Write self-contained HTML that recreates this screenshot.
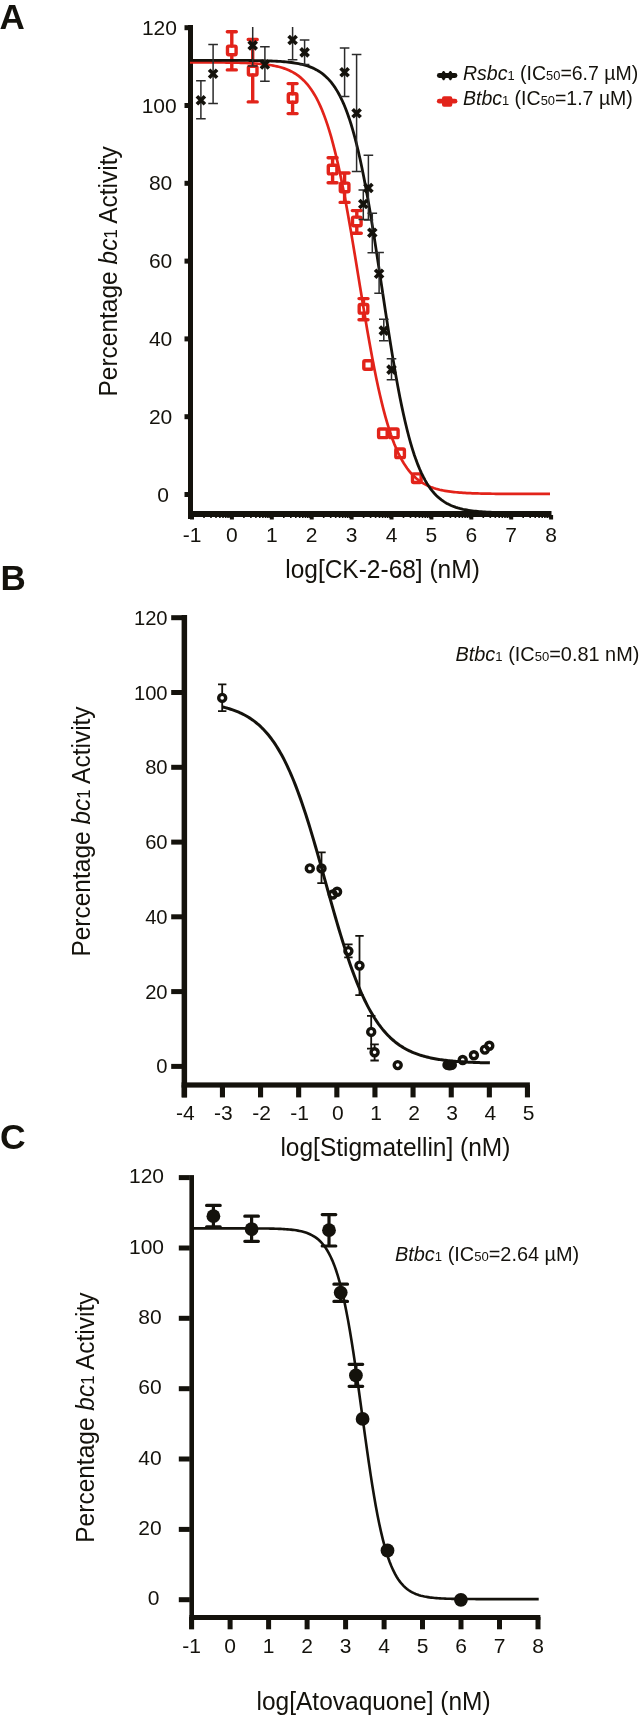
<!DOCTYPE html>
<html><head><meta charset="utf-8"><style>
html,body{margin:0;padding:0;background:#fff;}
svg{display:block;will-change:transform;}
text{font-family:"Liberation Sans",sans-serif;fill:#14120c;}
</style></head><body>
<svg width="641" height="1716" viewBox="0 0 641 1716">
<rect width="641" height="1716" fill="#fff"/>
<rect x="188" y="25" width="5" height="494" fill="#14120c"/>
<rect x="188" y="511" width="363.5" height="6" fill="#14120c"/>
<rect x="184.5" y="492.0" width="5" height="5" fill="#14120c"/>
<rect x="184.5" y="414.2" width="5" height="5" fill="#14120c"/>
<rect x="184.5" y="336.4" width="5" height="5" fill="#14120c"/>
<rect x="184.5" y="258.6" width="5" height="5" fill="#14120c"/>
<rect x="184.5" y="180.8" width="5" height="5" fill="#14120c"/>
<rect x="184.5" y="103.0" width="5" height="5" fill="#14120c"/>
<rect x="184.5" y="25.2" width="5" height="5" fill="#14120c"/>
<rect x="190.0" y="515" width="4" height="4.5" fill="#14120c"/>
<rect x="203.2" y="515" width="1.6" height="3" fill="#14120c"/>
<rect x="210.2" y="515" width="1.6" height="3" fill="#14120c"/>
<rect x="215.2" y="515" width="1.6" height="3" fill="#14120c"/>
<rect x="219.1" y="515" width="1.6" height="3" fill="#14120c"/>
<rect x="222.2" y="515" width="1.6" height="3" fill="#14120c"/>
<rect x="224.9" y="515" width="1.6" height="3" fill="#14120c"/>
<rect x="227.2" y="515" width="1.6" height="3" fill="#14120c"/>
<rect x="229.3" y="515" width="1.6" height="3" fill="#14120c"/>
<rect x="229.9" y="515" width="4" height="4.5" fill="#14120c"/>
<rect x="243.1" y="515" width="1.6" height="3" fill="#14120c"/>
<rect x="250.1" y="515" width="1.6" height="3" fill="#14120c"/>
<rect x="255.1" y="515" width="1.6" height="3" fill="#14120c"/>
<rect x="259.0" y="515" width="1.6" height="3" fill="#14120c"/>
<rect x="262.1" y="515" width="1.6" height="3" fill="#14120c"/>
<rect x="264.8" y="515" width="1.6" height="3" fill="#14120c"/>
<rect x="267.1" y="515" width="1.6" height="3" fill="#14120c"/>
<rect x="269.2" y="515" width="1.6" height="3" fill="#14120c"/>
<rect x="269.8" y="515" width="4" height="4.5" fill="#14120c"/>
<rect x="283.0" y="515" width="1.6" height="3" fill="#14120c"/>
<rect x="290.0" y="515" width="1.6" height="3" fill="#14120c"/>
<rect x="295.0" y="515" width="1.6" height="3" fill="#14120c"/>
<rect x="298.9" y="515" width="1.6" height="3" fill="#14120c"/>
<rect x="302.0" y="515" width="1.6" height="3" fill="#14120c"/>
<rect x="304.7" y="515" width="1.6" height="3" fill="#14120c"/>
<rect x="307.0" y="515" width="1.6" height="3" fill="#14120c"/>
<rect x="309.1" y="515" width="1.6" height="3" fill="#14120c"/>
<rect x="309.7" y="515" width="4" height="4.5" fill="#14120c"/>
<rect x="322.9" y="515" width="1.6" height="3" fill="#14120c"/>
<rect x="329.9" y="515" width="1.6" height="3" fill="#14120c"/>
<rect x="334.9" y="515" width="1.6" height="3" fill="#14120c"/>
<rect x="338.8" y="515" width="1.6" height="3" fill="#14120c"/>
<rect x="341.9" y="515" width="1.6" height="3" fill="#14120c"/>
<rect x="344.6" y="515" width="1.6" height="3" fill="#14120c"/>
<rect x="346.9" y="515" width="1.6" height="3" fill="#14120c"/>
<rect x="349.0" y="515" width="1.6" height="3" fill="#14120c"/>
<rect x="349.6" y="515" width="4" height="4.5" fill="#14120c"/>
<rect x="362.8" y="515" width="1.6" height="3" fill="#14120c"/>
<rect x="369.8" y="515" width="1.6" height="3" fill="#14120c"/>
<rect x="374.8" y="515" width="1.6" height="3" fill="#14120c"/>
<rect x="378.7" y="515" width="1.6" height="3" fill="#14120c"/>
<rect x="381.8" y="515" width="1.6" height="3" fill="#14120c"/>
<rect x="384.5" y="515" width="1.6" height="3" fill="#14120c"/>
<rect x="386.8" y="515" width="1.6" height="3" fill="#14120c"/>
<rect x="388.9" y="515" width="1.6" height="3" fill="#14120c"/>
<rect x="389.5" y="515" width="4" height="4.5" fill="#14120c"/>
<rect x="402.7" y="515" width="1.6" height="3" fill="#14120c"/>
<rect x="409.7" y="515" width="1.6" height="3" fill="#14120c"/>
<rect x="414.7" y="515" width="1.6" height="3" fill="#14120c"/>
<rect x="418.6" y="515" width="1.6" height="3" fill="#14120c"/>
<rect x="421.7" y="515" width="1.6" height="3" fill="#14120c"/>
<rect x="424.4" y="515" width="1.6" height="3" fill="#14120c"/>
<rect x="426.7" y="515" width="1.6" height="3" fill="#14120c"/>
<rect x="428.8" y="515" width="1.6" height="3" fill="#14120c"/>
<rect x="429.4" y="515" width="4" height="4.5" fill="#14120c"/>
<rect x="442.6" y="515" width="1.6" height="3" fill="#14120c"/>
<rect x="449.6" y="515" width="1.6" height="3" fill="#14120c"/>
<rect x="454.6" y="515" width="1.6" height="3" fill="#14120c"/>
<rect x="458.5" y="515" width="1.6" height="3" fill="#14120c"/>
<rect x="461.6" y="515" width="1.6" height="3" fill="#14120c"/>
<rect x="464.3" y="515" width="1.6" height="3" fill="#14120c"/>
<rect x="466.6" y="515" width="1.6" height="3" fill="#14120c"/>
<rect x="468.7" y="515" width="1.6" height="3" fill="#14120c"/>
<rect x="469.3" y="515" width="4" height="4.5" fill="#14120c"/>
<rect x="482.5" y="515" width="1.6" height="3" fill="#14120c"/>
<rect x="489.5" y="515" width="1.6" height="3" fill="#14120c"/>
<rect x="494.5" y="515" width="1.6" height="3" fill="#14120c"/>
<rect x="498.4" y="515" width="1.6" height="3" fill="#14120c"/>
<rect x="501.5" y="515" width="1.6" height="3" fill="#14120c"/>
<rect x="504.2" y="515" width="1.6" height="3" fill="#14120c"/>
<rect x="506.5" y="515" width="1.6" height="3" fill="#14120c"/>
<rect x="508.6" y="515" width="1.6" height="3" fill="#14120c"/>
<rect x="509.2" y="515" width="4" height="4.5" fill="#14120c"/>
<rect x="522.4" y="515" width="1.6" height="3" fill="#14120c"/>
<rect x="529.4" y="515" width="1.6" height="3" fill="#14120c"/>
<rect x="534.4" y="515" width="1.6" height="3" fill="#14120c"/>
<rect x="538.3" y="515" width="1.6" height="3" fill="#14120c"/>
<rect x="541.4" y="515" width="1.6" height="3" fill="#14120c"/>
<rect x="544.1" y="515" width="1.6" height="3" fill="#14120c"/>
<rect x="546.4" y="515" width="1.6" height="3" fill="#14120c"/>
<rect x="548.5" y="515" width="1.6" height="3" fill="#14120c"/>
<rect x="549.1" y="515" width="4" height="4.5" fill="#14120c"/>
<path d="M190.00,62.33 L191.81,62.33 L193.62,62.34 L195.43,62.34 L197.24,62.34 L199.05,62.35 L200.85,62.35 L202.66,62.36 L204.47,62.37 L206.28,62.37 L208.09,62.38 L209.90,62.39 L211.71,62.40 L213.52,62.41 L215.33,62.42 L217.14,62.44 L218.94,62.45 L220.75,62.47 L222.56,62.49 L224.37,62.51 L226.18,62.53 L227.99,62.55 L229.80,62.58 L231.61,62.61 L233.42,62.65 L235.23,62.68 L237.04,62.72 L238.84,62.77 L240.65,62.82 L242.46,62.88 L244.27,62.94 L246.08,63.01 L247.89,63.09 L249.70,63.17 L251.51,63.27 L253.32,63.37 L255.13,63.49 L256.93,63.61 L258.74,63.76 L260.55,63.91 L262.36,64.09 L264.17,64.28 L265.98,64.49 L267.79,64.73 L269.60,64.99 L271.41,65.28 L273.22,65.60 L275.03,65.96 L276.83,66.35 L278.64,66.79 L280.45,67.27 L282.26,67.80 L284.07,68.39 L285.88,69.04 L287.69,69.76 L289.50,70.55 L291.31,71.43 L293.12,72.40 L294.92,73.47 L296.73,74.64 L298.54,75.94 L300.35,77.37 L302.16,78.94 L303.97,80.67 L305.78,82.57 L307.59,84.65 L309.40,86.94 L311.21,89.45 L313.02,92.19 L314.82,95.18 L316.63,98.45 L318.44,102.01 L320.25,105.89 L322.06,110.09 L323.87,114.65 L325.68,119.58 L327.49,124.89 L329.30,130.61 L331.11,136.74 L332.91,143.30 L334.72,150.30 L336.53,157.74 L338.34,165.62 L340.15,173.93 L341.96,182.66 L343.77,191.80 L345.58,201.33 L347.39,211.21 L349.20,221.41 L351.01,231.89 L352.81,242.61 L354.62,253.51 L356.43,264.53 L358.24,275.63 L360.05,286.74 L361.86,297.81 L363.67,308.77 L365.48,319.58 L367.29,330.17 L369.10,340.50 L370.90,350.53 L372.71,360.22 L374.52,369.54 L376.33,378.46 L378.14,386.96 L379.95,395.04 L381.76,402.67 L383.57,409.87 L385.38,416.62 L387.19,422.95 L388.99,428.85 L390.80,434.34 L392.61,439.44 L394.42,444.16 L396.23,448.52 L398.04,452.55 L399.85,456.25 L401.66,459.64 L403.47,462.76 L405.28,465.61 L407.09,468.22 L408.89,470.61 L410.70,472.78 L412.51,474.76 L414.32,476.56 L416.13,478.20 L417.94,479.70 L419.75,481.05 L421.56,482.28 L423.37,483.40 L425.18,484.41 L426.98,485.32 L428.79,486.15 L430.60,486.91 L432.41,487.59 L434.22,488.20 L436.03,488.76 L437.84,489.26 L439.65,489.72 L441.46,490.13 L443.27,490.50 L445.08,490.84 L446.88,491.14 L448.69,491.42 L450.50,491.66 L452.31,491.89 L454.12,492.09 L455.93,492.27 L457.74,492.44 L459.55,492.59 L461.36,492.72 L463.17,492.84 L464.97,492.95 L466.78,493.05 L468.59,493.14 L470.40,493.22 L472.21,493.29 L474.02,493.36 L475.83,493.42 L477.64,493.47 L479.45,493.52 L481.26,493.56 L483.07,493.60 L484.87,493.63 L486.68,493.67 L488.49,493.70 L490.30,493.72 L492.11,493.74 L493.92,493.77 L495.73,493.78 L497.54,493.80 L499.35,493.82 L501.16,493.83 L502.96,493.84 L504.77,493.86 L506.58,493.87 L508.39,493.88 L510.20,493.88 L512.01,493.89 L513.82,493.90 L515.63,493.90 L517.44,493.91 L519.25,493.91 L521.06,493.92 L522.86,493.92 L524.67,493.93 L526.48,493.93 L528.29,493.93 L530.10,493.94 L531.91,493.94 L533.72,493.94 L535.53,493.94 L537.34,493.94 L539.15,493.95 L540.95,493.95 L542.76,493.95 L544.57,493.95 L546.38,493.95 L548.19,493.95 L550.00,493.95" fill="none" stroke="#e2231a" stroke-width="2.7"/>
<path d="M231.8,31.7 V46.1 M231.8,54.7 V69.9 M227.3,31.7 H236.3 M227.3,69.9 H236.3" stroke="#e2231a" stroke-width="3.4" stroke-linecap="round" fill="none"/>
<path d="M252.7,39.5 V66.4 M252.7,75.0 V101.9 M248.2,39.5 H257.2 M248.2,101.9 H257.2" stroke="#e2231a" stroke-width="3.4" stroke-linecap="round" fill="none"/>
<path d="M292.6,83.6 V93.7 M292.6,102.3 V113.6 M288.1,83.6 H297.1 M288.1,113.6 H297.1" stroke="#e2231a" stroke-width="3.4" stroke-linecap="round" fill="none"/>
<path d="M332.6,157.8 V165.3 M332.6,173.9 V182.7 M328.1,157.8 H337.1 M328.1,182.7 H337.1" stroke="#e2231a" stroke-width="3.4" stroke-linecap="round" fill="none"/>
<path d="M344.6,173 V183.1 M344.6,191.7 V202.4 M340.1,173 H349.1 M340.1,202.4 H349.1" stroke="#e2231a" stroke-width="3.4" stroke-linecap="round" fill="none"/>
<path d="M356.8,210.6 V217.1 M356.8,225.7 V233.2 M352.3,210.6 H361.3 M352.3,233.2 H361.3" stroke="#e2231a" stroke-width="3.4" stroke-linecap="round" fill="none"/>
<path d="M363.5,298.6 V304.5 M363.5,313.1 V319.7 M359.0,298.6 H368.0 M359.0,319.7 H368.0" stroke="#e2231a" stroke-width="3.4" stroke-linecap="round" fill="none"/>
<rect x="227.5" y="46.1" width="8.6" height="8.6" rx="1.2" fill="none" stroke="#e2231a" stroke-width="3.4"/>
<rect x="248.4" y="66.4" width="8.6" height="8.6" rx="1.2" fill="none" stroke="#e2231a" stroke-width="3.4"/>
<rect x="288.3" y="93.7" width="8.6" height="8.6" rx="1.2" fill="none" stroke="#e2231a" stroke-width="3.4"/>
<rect x="328.3" y="165.3" width="8.6" height="8.6" rx="1.2" fill="none" stroke="#e2231a" stroke-width="3.4"/>
<rect x="340.3" y="183.1" width="8.6" height="8.6" rx="1.2" fill="none" stroke="#e2231a" stroke-width="3.4"/>
<rect x="352.5" y="217.1" width="8.6" height="8.6" rx="1.2" fill="none" stroke="#e2231a" stroke-width="3.4"/>
<rect x="359.2" y="304.5" width="8.6" height="8.6" rx="1.2" fill="none" stroke="#e2231a" stroke-width="3.4"/>
<rect x="363.8" y="360.7" width="8.6" height="8.6" rx="1.2" fill="none" stroke="#e2231a" stroke-width="3.4"/>
<rect x="378.6" y="429.0" width="8.6" height="8.6" rx="1.2" fill="none" stroke="#e2231a" stroke-width="3.4"/>
<rect x="389.5" y="429.0" width="8.6" height="8.6" rx="1.2" fill="none" stroke="#e2231a" stroke-width="3.4"/>
<rect x="395.8" y="449.0" width="8.6" height="8.6" rx="1.2" fill="none" stroke="#e2231a" stroke-width="3.4"/>
<rect x="412.5" y="473.9" width="8.6" height="8.6" rx="1.2" fill="none" stroke="#e2231a" stroke-width="3.4"/>
<path d="M190.00,60.31 L191.81,60.31 L193.62,60.31 L195.43,60.31 L197.24,60.31 L199.05,60.31 L200.85,60.31 L202.66,60.31 L204.47,60.31 L206.28,60.31 L208.09,60.32 L209.90,60.32 L211.71,60.32 L213.52,60.32 L215.33,60.33 L217.14,60.33 L218.94,60.33 L220.75,60.33 L222.56,60.34 L224.37,60.34 L226.18,60.35 L227.99,60.35 L229.80,60.36 L231.61,60.37 L233.42,60.37 L235.23,60.38 L237.04,60.39 L238.84,60.40 L240.65,60.41 L242.46,60.42 L244.27,60.44 L246.08,60.45 L247.89,60.47 L249.70,60.49 L251.51,60.51 L253.32,60.54 L255.13,60.56 L256.93,60.59 L258.74,60.63 L260.55,60.66 L262.36,60.70 L264.17,60.75 L265.98,60.80 L267.79,60.85 L269.60,60.92 L271.41,60.99 L273.22,61.06 L275.03,61.15 L276.83,61.24 L278.64,61.35 L280.45,61.47 L282.26,61.60 L284.07,61.74 L285.88,61.90 L287.69,62.08 L289.50,62.28 L291.31,62.50 L293.12,62.75 L294.92,63.02 L296.73,63.33 L298.54,63.66 L300.35,64.04 L302.16,64.45 L303.97,64.91 L305.78,65.43 L307.59,65.99 L309.40,66.63 L311.21,67.32 L313.02,68.10 L314.82,68.96 L316.63,69.91 L318.44,70.96 L320.25,72.13 L322.06,73.42 L323.87,74.85 L325.68,76.42 L327.49,78.16 L329.30,80.08 L331.11,82.19 L332.91,84.52 L334.72,87.08 L336.53,89.89 L338.34,92.97 L340.15,96.35 L341.96,100.04 L343.77,104.07 L345.58,108.47 L347.39,113.24 L349.20,118.43 L351.01,124.03 L352.81,130.09 L354.62,136.60 L356.43,143.60 L358.24,151.08 L360.05,159.05 L361.86,167.51 L363.67,176.46 L365.48,185.88 L367.29,195.77 L369.10,206.08 L370.90,216.79 L372.71,227.86 L374.52,239.24 L376.33,250.88 L378.14,262.71 L379.95,274.67 L381.76,286.71 L383.57,298.74 L385.38,310.71 L387.19,322.54 L388.99,334.17 L390.80,345.55 L392.61,356.61 L394.42,367.32 L396.23,377.63 L398.04,387.51 L399.85,396.93 L401.66,405.88 L403.47,414.33 L405.28,422.30 L407.09,429.77 L408.89,436.76 L410.70,443.27 L412.51,449.32 L414.32,454.93 L416.13,460.10 L417.94,464.88 L419.75,469.27 L421.56,473.29 L423.37,476.98 L425.18,480.36 L426.98,483.44 L428.79,486.25 L430.60,488.80 L432.41,491.13 L434.22,493.24 L436.03,495.16 L437.84,496.89 L439.65,498.47 L441.46,499.89 L443.27,501.18 L445.08,502.35 L446.88,503.40 L448.69,504.35 L450.50,505.21 L452.31,505.98 L454.12,506.68 L455.93,507.31 L457.74,507.88 L459.55,508.39 L461.36,508.85 L463.17,509.27 L464.97,509.64 L466.78,509.98 L468.59,510.28 L470.40,510.55 L472.21,510.80 L474.02,511.02 L475.83,511.22 L477.64,511.40 L479.45,511.56 L481.26,511.71 L483.07,511.84 L484.87,511.95 L486.68,512.06 L488.49,512.15 L490.30,512.24 L492.11,512.32 L493.92,512.38 L495.73,512.45 L497.54,512.50 L499.35,512.55 L501.16,512.60 L502.96,512.64 L504.77,512.67 L506.58,512.71 L508.39,512.74 L510.20,512.76 L512.01,512.79 L513.82,512.81 L515.63,512.83 L517.44,512.85 L519.25,512.86 L521.06,512.88 L522.86,512.89 L524.67,512.90 L526.48,512.91 L528.29,512.92 L530.10,512.93 L531.91,512.93 L533.72,512.94 L535.53,512.95 L537.34,512.95 L539.15,512.96 L540.95,512.96 L542.76,512.97 L544.57,512.97 L546.38,512.97 L548.19,512.97 L550.00,512.98" fill="none" stroke="#14120c" stroke-width="2.8"/>
<path d="M200.9,80.8 V118.8 M196.1,118.8 H205.7 M196.1,80.8 H205.7" stroke="#2b2b2b" stroke-width="1.5" fill="none"/>
<path d="M213.1,44.5 V103.5 M208.3,103.5 H217.9 M208.3,44.5 H217.9" stroke="#2b2b2b" stroke-width="1.5" fill="none"/>
<path d="M252.7,27 V66 M247.9,66 H257.5" stroke="#2b2b2b" stroke-width="1.5" fill="none"/>
<path d="M264.9,46.8 V81.2 M260.1,81.2 H269.7 M260.1,46.8 H269.7" stroke="#2b2b2b" stroke-width="1.5" fill="none"/>
<path d="M292.6,27 V59.8 M287.8,59.8 H297.4" stroke="#2b2b2b" stroke-width="1.5" fill="none"/>
<path d="M304.6,40 V64.5 M299.8,64.5 H309.4 M299.8,40 H309.4" stroke="#2b2b2b" stroke-width="1.5" fill="none"/>
<path d="M344.6,48.1 V96.4 M339.8,96.4 H349.4 M339.8,48.1 H349.4" stroke="#2b2b2b" stroke-width="1.5" fill="none"/>
<path d="M356.6,54.6 V171.6 M351.8,171.6 H361.4 M351.8,54.6 H361.4" stroke="#2b2b2b" stroke-width="1.5" fill="none"/>
<path d="M368.4,155.2 V220 M363.6,220 H373.2 M363.6,155.2 H373.2" stroke="#2b2b2b" stroke-width="1.5" fill="none"/>
<path d="M363.3,189.9 V219.6 M358.5,219.6 H368.1 M358.5,189.9 H368.1" stroke="#2b2b2b" stroke-width="1.5" fill="none"/>
<path d="M372.3,213.3 V252.7 M367.5,252.7 H377.1 M367.5,213.3 H377.1" stroke="#2b2b2b" stroke-width="1.5" fill="none"/>
<path d="M379.1,252.6 V293.2 M374.3,293.2 H383.9 M374.3,252.6 H383.9" stroke="#2b2b2b" stroke-width="1.5" fill="none"/>
<path d="M383.8,319.2 V340.8 M379.0,340.8 H388.6 M379.0,319.2 H388.6" stroke="#2b2b2b" stroke-width="1.5" fill="none"/>
<path d="M391.5,358.7 V379.8 M386.7,379.8 H396.3 M386.7,358.7 H396.3" stroke="#2b2b2b" stroke-width="1.5" fill="none"/>
<path d="M196.9,96.3 L204.9,104.3 M196.9,104.3 L204.9,96.3" stroke="#14120c" stroke-width="3.7" fill="none"/>
<path d="M209.1,69.8 L217.1,77.8 M209.1,77.8 L217.1,69.8" stroke="#14120c" stroke-width="3.7" fill="none"/>
<path d="M248.7,41.4 L256.7,49.4 M248.7,49.4 L256.7,41.4" stroke="#14120c" stroke-width="3.7" fill="none"/>
<path d="M260.9,60.5 L268.9,68.5 M260.9,68.5 L268.9,60.5" stroke="#14120c" stroke-width="3.7" fill="none"/>
<path d="M288.6,36.0 L296.6,44.0 M288.6,44.0 L296.6,36.0" stroke="#14120c" stroke-width="3.7" fill="none"/>
<path d="M300.6,48.4 L308.6,56.4 M300.6,56.4 L308.6,48.4" stroke="#14120c" stroke-width="3.7" fill="none"/>
<path d="M340.6,68.3 L348.6,76.3 M340.6,76.3 L348.6,68.3" stroke="#14120c" stroke-width="3.7" fill="none"/>
<path d="M352.6,109.3 L360.6,117.3 M352.6,117.3 L360.6,109.3" stroke="#14120c" stroke-width="3.7" fill="none"/>
<path d="M364.4,184.0 L372.4,192.0 M364.4,192.0 L372.4,184.0" stroke="#14120c" stroke-width="3.7" fill="none"/>
<path d="M359.3,200.0 L367.3,208.0 M359.3,208.0 L367.3,200.0" stroke="#14120c" stroke-width="3.7" fill="none"/>
<path d="M368.3,228.8 L376.3,236.8 M368.3,236.8 L376.3,228.8" stroke="#14120c" stroke-width="3.7" fill="none"/>
<path d="M375.1,269.7 L383.1,277.7 M375.1,277.7 L383.1,269.7" stroke="#14120c" stroke-width="3.7" fill="none"/>
<path d="M379.8,326.6 L387.8,334.6 M379.8,334.6 L387.8,326.6" stroke="#14120c" stroke-width="3.7" fill="none"/>
<path d="M387.5,365.6 L395.5,373.6 M387.5,373.6 L395.5,365.6" stroke="#14120c" stroke-width="3.7" fill="none"/>
<path d="M439.3,75.5 H455" stroke="#14120c" stroke-width="4.8" stroke-linecap="round"/>
<path d="M443.0,70.9 H444.20000000000005 L447.20000000000005,75.5 L444.20000000000005,80.3 H443.0 L440.0,75.5Z" fill="#14120c"/>
<path d="M449.79999999999995,70.9 H451.0 L454.0,75.5 L451.0,80.3 H449.79999999999995 L446.79999999999995,75.5Z" fill="#14120c"/>
<path d="M439.3,101.2 H455" stroke="#e2231a" stroke-width="4.8" stroke-linecap="round"/>
<rect x="442" y="96.2" width="10.3" height="10.6" rx="2" fill="#e2231a"/>
<text x="-0.5" y="28.5" font-size="35" text-anchor="start" font-weight="bold">A</text>
<text x="159.4" y="34.8" font-size="21" text-anchor="middle" >120</text>
<text x="159.2" y="112.6" font-size="21" text-anchor="middle" >100</text>
<text x="160.6" y="190.4" font-size="21" text-anchor="middle" >80</text>
<text x="160.6" y="268.2" font-size="21" text-anchor="middle" >60</text>
<text x="160.6" y="346.0" font-size="21" text-anchor="middle" >40</text>
<text x="160.6" y="423.8" font-size="21" text-anchor="middle" >20</text>
<text x="163" y="501.6" font-size="21" text-anchor="middle" >0</text>
<text x="192.0" y="541.5" font-size="21" text-anchor="middle" >-1</text>
<text x="231.9" y="541.5" font-size="21" text-anchor="middle" >0</text>
<text x="271.8" y="541.5" font-size="21" text-anchor="middle" >1</text>
<text x="311.7" y="541.5" font-size="21" text-anchor="middle" >2</text>
<text x="351.6" y="541.5" font-size="21" text-anchor="middle" >3</text>
<text x="391.5" y="541.5" font-size="21" text-anchor="middle" >4</text>
<text x="431.4" y="541.5" font-size="21" text-anchor="middle" >5</text>
<text x="471.3" y="541.5" font-size="21" text-anchor="middle" >6</text>
<text x="511.2" y="541.5" font-size="21" text-anchor="middle" >7</text>
<text x="551.1" y="541.5" font-size="21" text-anchor="middle" >8</text>
<text transform="translate(382.5,577.6) scale(1,1.07)" font-size="24.5" text-anchor="middle">log[CK-2-68] (nM)</text>
<text transform="translate(117.3,271.4) rotate(-90) scale(1,1.07)" font-size="24.5" text-anchor="middle">Percentage <tspan font-style="italic">bc</tspan><tspan font-size="16.7">1</tspan> Activity</text>
<text x="463" y="79.5" font-size="19.5" text-anchor="start" ><tspan font-style="italic">Rsbc</tspan><tspan font-size="12.9">1</tspan> (IC<tspan font-size="12.9">50</tspan>=6.7 µM)</text>
<text x="463" y="105" font-size="19.5" text-anchor="start" ><tspan font-style="italic">Btbc</tspan><tspan font-size="12.9">1</tspan> (IC<tspan font-size="12.9">50</tspan>=1.7 µM)</text>
<rect x="181.6" y="615" width="5.5" height="482.4" fill="#14120c"/>
<rect x="181.6" y="1082.4" width="348.3" height="5.2" fill="#14120c"/>
<rect x="171.2" y="1063.9" width="11" height="5" fill="#14120c"/>
<rect x="171.2" y="989.1" width="11" height="5" fill="#14120c"/>
<rect x="171.2" y="914.3" width="11" height="5" fill="#14120c"/>
<rect x="171.2" y="839.6" width="11" height="5" fill="#14120c"/>
<rect x="171.2" y="764.8" width="11" height="5" fill="#14120c"/>
<rect x="171.2" y="690.0" width="11" height="5" fill="#14120c"/>
<rect x="171.2" y="615.2" width="11" height="5" fill="#14120c"/>
<rect x="181.8" y="1085" width="5.1" height="12.4" fill="#14120c"/>
<rect x="219.9" y="1085" width="5.1" height="12.4" fill="#14120c"/>
<rect x="258.0" y="1085" width="5.1" height="12.4" fill="#14120c"/>
<rect x="296.1" y="1085" width="5.1" height="12.4" fill="#14120c"/>
<rect x="334.3" y="1085" width="5.1" height="12.4" fill="#14120c"/>
<rect x="372.4" y="1085" width="5.1" height="12.4" fill="#14120c"/>
<rect x="410.5" y="1085" width="5.1" height="12.4" fill="#14120c"/>
<rect x="448.7" y="1085" width="5.1" height="12.4" fill="#14120c"/>
<rect x="486.8" y="1085" width="5.1" height="12.4" fill="#14120c"/>
<rect x="524.9" y="1085" width="5.1" height="12.4" fill="#14120c"/>
<path d="M222.60,707.00 L223.94,707.32 L225.29,707.66 L226.63,708.01 L227.97,708.39 L229.32,708.79 L230.66,709.20 L232.00,709.64 L233.35,710.10 L234.69,710.58 L236.03,711.09 L237.38,711.63 L238.72,712.19 L240.06,712.79 L241.41,713.41 L242.75,714.06 L244.09,714.75 L245.43,715.47 L246.78,716.23 L248.12,717.03 L249.46,717.87 L250.81,718.74 L252.15,719.66 L253.49,720.63 L254.84,721.64 L256.18,722.71 L257.52,723.82 L258.87,724.99 L260.21,726.21 L261.55,727.49 L262.90,728.83 L264.24,730.23 L265.58,731.69 L266.93,733.22 L268.27,734.82 L269.61,736.49 L270.96,738.23 L272.30,740.05 L273.64,741.95 L274.99,743.93 L276.33,745.99 L277.67,748.13 L279.02,750.36 L280.36,752.67 L281.70,755.08 L283.04,757.58 L284.39,760.17 L285.73,762.86 L287.07,765.64 L288.42,768.52 L289.76,771.50 L291.10,774.58 L292.45,777.75 L293.79,781.03 L295.13,784.40 L296.48,787.88 L297.82,791.45 L299.16,795.11 L300.51,798.87 L301.85,802.73 L303.19,806.68 L304.54,810.71 L305.88,814.83 L307.22,819.04 L308.57,823.32 L309.91,827.68 L311.25,832.10 L312.60,836.60 L313.94,841.15 L315.28,845.76 L316.63,850.42 L317.97,855.12 L319.31,859.86 L320.65,864.63 L322.00,869.43 L323.34,874.25 L324.68,879.07 L326.03,883.90 L327.37,888.73 L328.71,893.55 L330.06,898.35 L331.40,903.13 L332.74,907.88 L334.09,912.60 L335.43,917.27 L336.77,921.89 L338.12,926.47 L339.46,930.98 L340.80,935.43 L342.15,939.80 L343.49,944.11 L344.83,948.34 L346.18,952.48 L347.52,956.54 L348.86,960.52 L350.21,964.40 L351.55,968.19 L352.89,971.88 L354.24,975.48 L355.58,978.98 L356.92,982.39 L358.26,985.69 L359.61,988.90 L360.95,992.00 L362.29,995.01 L363.64,997.92 L364.98,1000.73 L366.32,1003.45 L367.67,1006.07 L369.01,1008.60 L370.35,1011.03 L371.70,1013.37 L373.04,1015.63 L374.38,1017.80 L375.73,1019.88 L377.07,1021.88 L378.41,1023.80 L379.76,1025.64 L381.10,1027.41 L382.44,1029.10 L383.79,1030.72 L385.13,1032.27 L386.47,1033.76 L387.82,1035.18 L389.16,1036.53 L390.50,1037.83 L391.85,1039.07 L393.19,1040.25 L394.53,1041.38 L395.87,1042.46 L397.22,1043.48 L398.56,1044.46 L399.90,1045.40 L401.25,1046.29 L402.59,1047.14 L403.93,1047.95 L405.28,1048.72 L406.62,1049.45 L407.96,1050.15 L409.31,1050.81 L410.65,1051.44 L411.99,1052.04 L413.34,1052.62 L414.68,1053.16 L416.02,1053.68 L417.37,1054.17 L418.71,1054.64 L420.05,1055.08 L421.40,1055.50 L422.74,1055.91 L424.08,1056.29 L425.43,1056.65 L426.77,1056.99 L428.11,1057.32 L429.46,1057.63 L430.80,1057.93 L432.14,1058.21 L433.48,1058.47 L434.83,1058.72 L436.17,1058.96 L437.51,1059.19 L438.86,1059.41 L440.20,1059.61 L441.54,1059.81 L442.89,1059.99 L444.23,1060.17 L445.57,1060.33 L446.92,1060.49 L448.26,1060.64 L449.60,1060.78 L450.95,1060.92 L452.29,1061.05 L453.63,1061.17 L454.98,1061.28 L456.32,1061.39 L457.66,1061.50 L459.01,1061.59 L460.35,1061.69 L461.69,1061.78 L463.04,1061.86 L464.38,1061.94 L465.72,1062.01 L467.07,1062.09 L468.41,1062.15 L469.75,1062.22 L471.09,1062.28 L472.44,1062.34 L473.78,1062.39 L475.12,1062.44 L476.47,1062.49 L477.81,1062.54 L479.15,1062.58 L480.50,1062.63 L481.84,1062.67 L483.18,1062.70 L484.53,1062.74 L485.87,1062.77 L487.21,1062.81 L488.56,1062.84 L489.90,1062.87" fill="none" stroke="#14120c" stroke-width="3"/>
<path d="M222.2,684.4 V694.4 M222.2,701.4 V711.2 M218.0,684.4 H226.4 M218.0,711.2 H226.4" stroke="#14120c" stroke-width="1.8" fill="none"/>
<path d="M321.5,852.3 V864.9 M321.5,871.9 V883.2 M317.3,852.3 H325.7 M317.3,883.2 H325.7" stroke="#14120c" stroke-width="1.8" fill="none"/>
<path d="M348.4,944.4 V947.6 M348.4,954.6 V957.3 M344.2,944.4 H352.6 M344.2,957.3 H352.6" stroke="#14120c" stroke-width="1.8" fill="none"/>
<path d="M359.5,935.8 V962.1 M359.5,969.1 V995.2 M355.3,935.8 H363.7 M355.3,995.2 H363.7" stroke="#14120c" stroke-width="1.8" fill="none"/>
<path d="M371.2,1015.8 V1028.4 M371.2,1035.4 V1048.6 M367.0,1015.8 H375.4 M367.0,1048.6 H375.4" stroke="#14120c" stroke-width="1.8" fill="none"/>
<path d="M374.6,1044.4 V1048.7 M374.6,1055.7 V1060.5 M370.4,1044.4 H378.8 M370.4,1060.5 H378.8" stroke="#14120c" stroke-width="1.8" fill="none"/>
<circle cx="222.2" cy="697.9" r="3.5" fill="none" stroke="#14120c" stroke-width="3.4"/>
<circle cx="309.8" cy="868.4" r="3.5" fill="none" stroke="#14120c" stroke-width="3.4"/>
<circle cx="321.5" cy="868.4" r="3.5" fill="none" stroke="#14120c" stroke-width="3.4"/>
<circle cx="332.8" cy="894.5" r="3.5" fill="none" stroke="#14120c" stroke-width="3.4"/>
<circle cx="337.1" cy="891.8" r="3.5" fill="none" stroke="#14120c" stroke-width="3.4"/>
<circle cx="348.4" cy="951.1" r="3.5" fill="none" stroke="#14120c" stroke-width="3.4"/>
<circle cx="359.5" cy="965.6" r="3.5" fill="none" stroke="#14120c" stroke-width="3.4"/>
<circle cx="371.2" cy="1031.9" r="3.5" fill="none" stroke="#14120c" stroke-width="3.4"/>
<circle cx="374.6" cy="1052.2" r="3.5" fill="none" stroke="#14120c" stroke-width="3.4"/>
<circle cx="397.7" cy="1065.1" r="3.5" fill="none" stroke="#14120c" stroke-width="3.4"/>
<circle cx="447.5" cy="1064.9" r="3.5" fill="none" stroke="#14120c" stroke-width="3.4"/>
<circle cx="449.6" cy="1065.2" r="3.5" fill="none" stroke="#14120c" stroke-width="3.4"/>
<circle cx="451.8" cy="1064.9" r="3.5" fill="none" stroke="#14120c" stroke-width="3.4"/>
<circle cx="462.7" cy="1060" r="3.5" fill="none" stroke="#14120c" stroke-width="3.4"/>
<circle cx="473.9" cy="1055.2" r="3.5" fill="none" stroke="#14120c" stroke-width="3.4"/>
<circle cx="484.9" cy="1049.6" r="3.5" fill="none" stroke="#14120c" stroke-width="3.4"/>
<circle cx="489.3" cy="1045.8" r="3.5" fill="none" stroke="#14120c" stroke-width="3.4"/>
<text x="0.5" y="590" font-size="35" text-anchor="start" font-weight="bold">B</text>
<text x="167.6" y="1073.4" font-size="20.2" text-anchor="end" >0</text>
<text x="167.6" y="998.6" font-size="20.2" text-anchor="end" >20</text>
<text x="167.6" y="923.8" font-size="20.2" text-anchor="end" >40</text>
<text x="167.6" y="849.1" font-size="20.2" text-anchor="end" >60</text>
<text x="167.6" y="774.3" font-size="20.2" text-anchor="end" >80</text>
<text x="167.6" y="699.5" font-size="20.2" text-anchor="end" >100</text>
<text x="167.6" y="624.7" font-size="20.2" text-anchor="end" >120</text>
<text x="185.3" y="1120" font-size="21" text-anchor="middle" >-4</text>
<text x="223.4" y="1120" font-size="21" text-anchor="middle" >-3</text>
<text x="261.6" y="1120" font-size="21" text-anchor="middle" >-2</text>
<text x="299.7" y="1120" font-size="21" text-anchor="middle" >-1</text>
<text x="337.8" y="1120" font-size="21" text-anchor="middle" >0</text>
<text x="376.0" y="1120" font-size="21" text-anchor="middle" >1</text>
<text x="414.1" y="1120" font-size="21" text-anchor="middle" >2</text>
<text x="452.2" y="1120" font-size="21" text-anchor="middle" >3</text>
<text x="490.3" y="1120" font-size="21" text-anchor="middle" >4</text>
<text x="528.5" y="1120" font-size="21" text-anchor="middle" >5</text>
<text transform="translate(395.4,1156) scale(1,1.07)" font-size="24.5" text-anchor="middle">log[Stigmatellin] (nM)</text>
<text transform="translate(89.5,831.5) rotate(-90) scale(1,1.07)" font-size="24.5" text-anchor="middle">Percentage <tspan font-style="italic">bc</tspan><tspan font-size="16.7">1</tspan> Activity</text>
<text x="455.5" y="660.6" font-size="19.9" text-anchor="start" ><tspan font-style="italic">Btbc</tspan><tspan font-size="13.1">1</tspan> (IC<tspan font-size="13.1">50</tspan>=0.81 nM)</text>
<rect x="189.4" y="1175.1" width="4.6" height="454" fill="#14120c"/>
<rect x="189.4" y="1615" width="351" height="5" fill="#14120c"/>
<rect x="178.8" y="1597.2" width="11" height="5" fill="#14120c"/>
<rect x="178.8" y="1526.9" width="11" height="5" fill="#14120c"/>
<rect x="178.8" y="1456.5" width="11" height="5" fill="#14120c"/>
<rect x="178.8" y="1386.2" width="11" height="5" fill="#14120c"/>
<rect x="178.8" y="1315.8" width="11" height="5" fill="#14120c"/>
<rect x="178.8" y="1245.5" width="11" height="5" fill="#14120c"/>
<rect x="178.8" y="1175.1" width="11" height="5" fill="#14120c"/>
<rect x="189.1" y="1617" width="5" height="12.3" fill="#14120c"/>
<rect x="227.6" y="1617" width="5" height="12.3" fill="#14120c"/>
<rect x="266.1" y="1617" width="5" height="12.3" fill="#14120c"/>
<rect x="304.6" y="1617" width="5" height="12.3" fill="#14120c"/>
<rect x="343.1" y="1617" width="5" height="12.3" fill="#14120c"/>
<rect x="381.6" y="1617" width="5" height="12.3" fill="#14120c"/>
<rect x="420.0" y="1617" width="5" height="12.3" fill="#14120c"/>
<rect x="458.5" y="1617" width="5" height="12.3" fill="#14120c"/>
<rect x="497.0" y="1617" width="5" height="12.3" fill="#14120c"/>
<rect x="535.5" y="1617" width="5" height="12.3" fill="#14120c"/>
<path d="M193.90,1228.34 L195.63,1228.34 L197.37,1228.34 L199.10,1228.34 L200.83,1228.34 L202.56,1228.34 L204.30,1228.34 L206.03,1228.34 L207.76,1228.34 L209.49,1228.34 L211.23,1228.34 L212.96,1228.34 L214.69,1228.34 L216.42,1228.34 L218.16,1228.34 L219.89,1228.34 L221.62,1228.34 L223.36,1228.35 L225.09,1228.35 L226.82,1228.35 L228.55,1228.35 L230.29,1228.35 L232.02,1228.35 L233.75,1228.35 L235.48,1228.36 L237.22,1228.36 L238.95,1228.36 L240.68,1228.36 L242.41,1228.37 L244.15,1228.37 L245.88,1228.38 L247.61,1228.38 L249.35,1228.39 L251.08,1228.39 L252.81,1228.40 L254.54,1228.41 L256.28,1228.42 L258.01,1228.44 L259.74,1228.45 L261.47,1228.47 L263.21,1228.48 L264.94,1228.51 L266.67,1228.53 L268.40,1228.56 L270.14,1228.59 L271.87,1228.63 L273.60,1228.67 L275.34,1228.72 L277.07,1228.78 L278.80,1228.84 L280.53,1228.91 L282.27,1229.00 L284.00,1229.10 L285.73,1229.21 L287.46,1229.34 L289.20,1229.48 L290.93,1229.65 L292.66,1229.84 L294.39,1230.06 L296.13,1230.32 L297.86,1230.60 L299.59,1230.94 L301.33,1231.32 L303.06,1231.75 L304.79,1232.25 L306.52,1232.82 L308.26,1233.47 L309.99,1234.21 L311.72,1235.06 L313.45,1236.03 L315.19,1237.14 L316.92,1238.40 L318.65,1239.84 L320.38,1241.47 L322.12,1243.33 L323.85,1245.44 L325.58,1247.83 L327.32,1250.53 L329.05,1253.57 L330.78,1257.00 L332.51,1260.86 L334.25,1265.18 L335.98,1269.99 L337.71,1275.35 L339.44,1281.29 L341.18,1287.85 L342.91,1295.04 L344.64,1302.89 L346.37,1311.42 L348.11,1320.62 L349.84,1330.47 L351.57,1340.95 L353.31,1352.01 L355.04,1363.59 L356.77,1375.61 L358.50,1387.97 L360.24,1400.56 L361.97,1413.29 L363.70,1426.01 L365.43,1438.62 L367.17,1451.00 L368.90,1463.05 L370.63,1474.66 L372.36,1485.76 L374.10,1496.28 L375.83,1506.18 L377.56,1515.42 L379.29,1523.99 L381.03,1531.89 L382.76,1539.13 L384.49,1545.73 L386.23,1551.71 L387.96,1557.11 L389.69,1561.96 L391.42,1566.31 L393.16,1570.20 L394.89,1573.66 L396.62,1576.73 L398.35,1579.45 L400.09,1581.86 L401.82,1583.99 L403.55,1585.86 L405.28,1587.51 L407.02,1588.96 L408.75,1590.23 L410.48,1591.35 L412.22,1592.33 L413.95,1593.19 L415.68,1593.94 L417.41,1594.60 L419.15,1595.17 L420.88,1595.67 L422.61,1596.11 L424.34,1596.50 L426.08,1596.83 L427.81,1597.12 L429.54,1597.38 L431.27,1597.60 L433.01,1597.79 L434.74,1597.96 L436.47,1598.11 L438.21,1598.24 L439.94,1598.35 L441.67,1598.45 L443.40,1598.54 L445.14,1598.61 L446.87,1598.68 L448.60,1598.73 L450.33,1598.78 L452.07,1598.83 L453.80,1598.86 L455.53,1598.90 L457.26,1598.92 L459.00,1598.95 L460.73,1598.97 L462.46,1598.99 L464.20,1599.01 L465.93,1599.02 L467.66,1599.03 L469.39,1599.04 L471.13,1599.05 L472.86,1599.06 L474.59,1599.07 L476.32,1599.08 L478.06,1599.08 L479.79,1599.09 L481.52,1599.09 L483.25,1599.09 L484.99,1599.10 L486.72,1599.10 L488.45,1599.10 L490.19,1599.10 L491.92,1599.11 L493.65,1599.11 L495.38,1599.11 L497.12,1599.11 L498.85,1599.11 L500.58,1599.11 L502.31,1599.11 L504.05,1599.11 L505.78,1599.11 L507.51,1599.11 L509.24,1599.11 L510.98,1599.12 L512.71,1599.12 L514.44,1599.12 L516.18,1599.12 L517.91,1599.12 L519.64,1599.12 L521.37,1599.12 L523.11,1599.12 L524.84,1599.12 L526.57,1599.12 L528.30,1599.12 L530.04,1599.12 L531.77,1599.12 L533.50,1599.12 L535.23,1599.12 L536.97,1599.12 L538.70,1599.12" fill="none" stroke="#14120c" stroke-width="2.6"/>
<path d="M213.4,1205.4 V1226.8 M206.6,1205.4 H220.2 M206.6,1226.8 H220.2" stroke="#14120c" stroke-width="3.2" stroke-linecap="round" fill="none"/>
<path d="M251.6,1216.2 V1241.3 M244.8,1216.2 H258.4 M244.8,1241.3 H258.4" stroke="#14120c" stroke-width="3.2" stroke-linecap="round" fill="none"/>
<path d="M329.0,1214.6 V1246 M322.2,1214.6 H335.8 M322.2,1246 H335.8" stroke="#14120c" stroke-width="3.2" stroke-linecap="round" fill="none"/>
<path d="M340.7,1284.2 V1301.4 M333.9,1284.2 H347.5 M333.9,1301.4 H347.5" stroke="#14120c" stroke-width="3.2" stroke-linecap="round" fill="none"/>
<path d="M355.9,1364.3 V1386.3 M349.1,1364.3 H362.7 M349.1,1386.3 H362.7" stroke="#14120c" stroke-width="3.2" stroke-linecap="round" fill="none"/>
<circle cx="213.4" cy="1216.2" r="6.9" fill="#14120c"/>
<circle cx="251.6" cy="1229.1" r="6.9" fill="#14120c"/>
<circle cx="329" cy="1230.2" r="6.9" fill="#14120c"/>
<circle cx="340.7" cy="1292.6" r="6.9" fill="#14120c"/>
<circle cx="355.9" cy="1375.4" r="6.9" fill="#14120c"/>
<circle cx="362.6" cy="1418.9" r="6.9" fill="#14120c"/>
<circle cx="387.5" cy="1550.5" r="6.9" fill="#14120c"/>
<circle cx="460.9" cy="1599.8" r="6.9" fill="#14120c"/>
<text x="0" y="1148.7" font-size="35.5" text-anchor="start" font-weight="bold">C</text>
<text x="146.5" y="1183.2" font-size="21" text-anchor="middle" >120</text>
<text x="146.5" y="1253.5" font-size="21" text-anchor="middle" >100</text>
<text x="150" y="1323.9" font-size="21" text-anchor="middle" >80</text>
<text x="150" y="1394.2" font-size="21" text-anchor="middle" >60</text>
<text x="150" y="1464.6" font-size="21" text-anchor="middle" >40</text>
<text x="150" y="1535.0" font-size="21" text-anchor="middle" >20</text>
<text x="153.5" y="1605.3" font-size="21" text-anchor="middle" >0</text>
<text x="191.6" y="1652.5" font-size="21" text-anchor="middle" >-1</text>
<text x="230.1" y="1652.5" font-size="21" text-anchor="middle" >0</text>
<text x="268.6" y="1652.5" font-size="21" text-anchor="middle" >1</text>
<text x="307.1" y="1652.5" font-size="21" text-anchor="middle" >2</text>
<text x="345.6" y="1652.5" font-size="21" text-anchor="middle" >3</text>
<text x="384.1" y="1652.5" font-size="21" text-anchor="middle" >4</text>
<text x="422.5" y="1652.5" font-size="21" text-anchor="middle" >5</text>
<text x="461.0" y="1652.5" font-size="21" text-anchor="middle" >6</text>
<text x="499.5" y="1652.5" font-size="21" text-anchor="middle" >7</text>
<text x="538.0" y="1652.5" font-size="21" text-anchor="middle" >8</text>
<text transform="translate(373.6,1710) scale(1,1.07)" font-size="24.5" text-anchor="middle">log[Atovaquone] (nM)</text>
<text transform="translate(93.8,1417.6) rotate(-90) scale(1,1.07)" font-size="24.5" text-anchor="middle">Percentage <tspan font-style="italic">bc</tspan><tspan font-size="16.7">1</tspan> Activity</text>
<text x="395" y="1260.5" font-size="19.9" text-anchor="start" ><tspan font-style="italic">Btbc</tspan><tspan font-size="13.1">1</tspan> (IC<tspan font-size="13.1">50</tspan>=2.64 µM)</text>
</svg>
</body></html>
